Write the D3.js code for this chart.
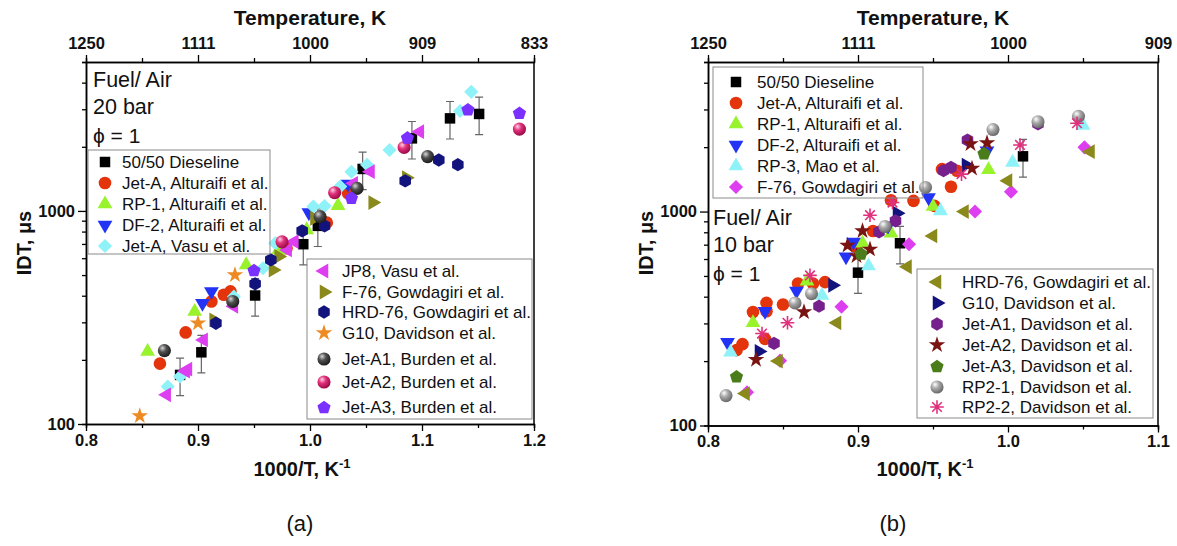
<!DOCTYPE html>
<html>
<head>
<meta charset="utf-8">
<script src="https://cdn.jsdelivr.net/npm/d3@7"></script>
<style>
  body { margin: 0; background: #fff; }
  svg { display: block; }
  text { font-family: "Liberation Sans", Arial, sans-serif; fill: #111; }
</style>
</head>
<body>
<svg id="chart" width="1177" height="546"></svg>
<script>
// ---------- data, panel (a): fuel/air, 20 bar, [1000/T, IDT us] ----------
const a_dieseline = [[0.884,170],[0.903,217],[0.951,401],[0.994,698],[1.007,851],[1.047,1574],[1.091,2191],[1.125,2719],[1.151,2852]];
const a_dieselineErr = [0.2,0.2,0.2,0.2,0.2,0.2,0.2,0.2,0.2];
const a_jetA_alt = [[0.866,192],[0.889,269],[0.912,376],[0.923,404],[0.929,419],[0.979,668],[1.015,881],[1.034,1211]];
const a_rp1_alt = [[0.855,219],[0.897,337],[0.943,558],[0.972,656],[0.997,815],[1.025,1059]];
const a_df2_alt = [[0.904,369],[0.912,419],[0.999,982],[1.034,1339]];
const a_jetA_vasu = [[0.873,150],[0.884,167],[0.932,396],[0.958,538],[0.969,705],[1.003,1048],[1.013,1055],[1.027,1301],[1.037,1528],[1.051,1645],[1.071,1932],[1.134,2943],[1.144,3623]];
const a_jp8_vasu = [[0.872,137],[0.889,177],[0.891,181],[0.905,248],[0.932,357],[0.980,656],[0.986,718],[1.039,1348],[1.054,1528],[1.098,2354]];
const a_f76_gow = [[0.914,308],[0.967,528],[0.972,611],[1.004,924],[1.056,1094],[1.086,1433]];
const a_hrd76_gow = [[0.916,297],[0.951,455],[0.965,589],[0.993,806],[1.013,851],[1.085,1383],[1.115,1734],[1.132,1648]];
const a_g10_dav = [[0.848,109],[0.900,297],[0.933,501]];
const a_jetA1_bur = [[0.870,221],[0.931,376],[1.009,940],[1.042,1276],[1.105,1799]];
const a_jetA2_bur = [[0.975,716],[1.022,1218],[1.084,1986],[1.187,2421]];
const a_jetA3_bur = [[0.950,528],[1.037,1155],[1.087,2215],[1.141,3000],[1.187,2890]];

// ---------- data, panel (b): fuel/air, 10 bar ----------
const b_dieseline = [[0.900,518],[0.928,711],[1.010,1812]];
const b_dieselineErr = [0.2,0.2,0.2];
const b_jetA_alt = [[0.819,225],[0.823,240],[0.830,339],[0.838,254],[0.839,374],[0.839,342],[0.850,368],[0.860,461],[0.870,461],[0.878,468],[0.899,678],[0.910,811],[0.922,1130],[0.937,1122],[0.951,1063],[0.956,1578],[0.962,1305],[0.966,1552]];
const b_rp1_alt = [[0.830,302],[0.866,473],[0.903,711],[0.922,791],[0.950,1055],[0.987,1567]];
const b_df2_alt = [[0.813,245],[0.838,342],[0.859,425],[0.892,615],[0.897,721],[0.920,857],[0.947,1163],[0.986,1923]];
const b_rp3_mao = [[0.815,220],[0.876,405],[0.907,556],[0.955,1007],[1.003,1698],[1.050,2523]];
const b_f76_gow = [[0.826,143],[0.848,201],[0.889,359],[0.934,703],[0.978,1000],[1.002,1237],[1.051,1995]];
const b_hrd76_gow = [[0.825,141],[0.847,200],[0.886,302],[0.933,552],[0.950,769],[0.971,1000],[1.000,1393],[1.055,1905]];
const b_g10_dav = [[0.834,222],[0.883,452],[0.926,982],[0.972,1649]];
const b_jetA1_dav = [[0.844,242],[0.874,361],[0.914,803],[0.925,904],[0.957,1552],[0.962,1608],[0.973,2158],[1.020,2570]];
const b_jetA2_dav = [[0.832,203],[0.864,339],[0.893,695],[0.899,620],[0.903,811],[0.908,666],[0.975,2070],[0.976,1591],[0.986,2090]];
const b_jetA3_dav = [[0.819,170],[0.902,638],[0.984,1876]];
const b_rp21_dav = [[0.812,138],[0.858,374],[0.869,413],[0.918,851],[0.945,1296],[0.990,2417],[1.020,2630],[1.047,2786]];
const b_rp22_dav = [[0.836,269],[0.853,302],[0.868,503],[0.908,961],[0.923,1102],[0.969,1496],[1.008,2047],[1.046,2588]];

// ---------- axis ticks ----------
const yMajor = [100, 1000];
const yMinor = [200,300,400,500,600,700,800,900,2000,3000,4000,5000];
const a_xMajor = [0.8, 0.9, 1.0, 1.1, 1.2];
const a_xMinor = [0.85, 0.95, 1.05, 1.15];
const b_xMajor = [0.8, 0.9, 1.0, 1.1];
const b_xMinor = [0.85, 0.95, 1.05];

// ---------- legend labels ----------
const a_labels1 = ['50/50 Dieseline','Jet-A, Alturaifi et al.','RP-1, Alturaifi et al.','DF-2, Alturaifi et al.','Jet-A, Vasu et al.'];
const a_labels2 = ['JP8, Vasu et al.','F-76, Gowdagiri et al.','HRD-76, Gowdagiri et al.','G10, Davidson et al.','Jet-A1, Burden et al.','Jet-A2, Burden et al.','Jet-A3, Burden et al.'];
const b_labels1 = ['50/50 Dieseline','Jet-A, Alturaifi et al.','RP-1, Alturaifi et al.','DF-2, Alturaifi et al.','RP-3, Mao et al.','F-76, Gowdagiri et al.'];
const b_labels2 = ['HRD-76, Gowdagiri et al.','G10, Davidson et al.','Jet-A1, Davidson et al.','Jet-A2, Davidson et al.','Jet-A3, Davidson et al.','RP2-1, Davidson et al.','RP2-2, Davidson et al.'];

const svg = d3.select('#chart');
svg.append('rect').attr('width', 1177).attr('height', 546).attr('fill', '#fff');
const defs = svg.append('defs');

// sphere gradients
function sphereGrad(id, light, base, dark) {
  const g = defs.append('radialGradient').attr('id', id)
    .attr('cx', '38%').attr('cy', '35%').attr('r', '65%').attr('fx', '35%').attr('fy', '30%');
  g.append('stop').attr('offset', '0%').attr('stop-color', light);
  g.append('stop').attr('offset', '45%').attr('stop-color', base);
  g.append('stop').attr('offset', '100%').attr('stop-color', dark);
  return `url(#${id})`;
}
const sphDark = sphereGrad('sphDark', '#d8d8d8', '#505050', '#1e1e1e');
const sphPink = sphereGrad('sphPink', '#ffd0e4', '#e0307a', '#9a0c48');
const sphGrey = sphereGrad('sphGrey', '#ffffff', '#a8a8a8', '#6a6a6a');

// custom symbol types
const symbolHexagon = {
  draw(ctx, size) {
    const r = Math.sqrt(size * 2 / (3 * Math.sqrt(3)));
    for (let i = 0; i < 6; i++) {
      const a = Math.PI / 3 * i - Math.PI / 2;
      i ? ctx.lineTo(r * Math.cos(a), r * Math.sin(a)) : ctx.moveTo(r * Math.cos(a), r * Math.sin(a));
    }
    ctx.closePath();
  }
};
const symbolPentagon = {
  draw(ctx, size) {
    const r = Math.sqrt(size / 2.378);
    for (let i = 0; i < 5; i++) {
      const a = 2 * Math.PI / 5 * i - Math.PI / 2;
      i ? ctx.lineTo(r * Math.cos(a), r * Math.sin(a) + r * 0.1) : ctx.moveTo(r * Math.cos(a), r * Math.sin(a) + r * 0.1);
    }
    ctx.closePath();
  }
};
const symbolAsterisk = {
  draw(ctx, size) {
    const r = Math.sqrt(size) / 2;
    for (let i = 0; i < 4; i++) {
      const a = Math.PI / 4 * i;
      ctx.moveTo(-r * Math.cos(a), -r * Math.sin(a));
      ctx.lineTo(r * Math.cos(a), r * Math.sin(a));
    }
  }
};

// shape -> [symbol type, size, rotation]
const shapes = {
  square:   [d3.symbolSquare, 110, 0],
  circle:   [d3.symbolCircle, 125, 0],
  up:       [d3.symbolTriangle, 95, 0],
  down:     [d3.symbolTriangle, 95, 180],
  left:     [d3.symbolTriangle, 95, -90],
  right:    [d3.symbolTriangle, 95, 90],
  diamond:  [d3.symbolSquare, 100, 45],
  hexagon:  [symbolHexagon, 115, 0],
  pentagon: [symbolPentagon, 115, 0],
  star:     [d3.symbolStar, 85, 0],
  sphere:   [d3.symbolCircle, 135, 0],
  asterisk: [symbolAsterisk, 185, 0]
};

function drawMarker(g, shape, color, cx, cy) {
  const [type, size, rot] = shapes[shape];
  const p = g.append('path')
    .attr('d', d3.symbol().type(type).size(size)())
    .attr('transform', `translate(${cx},${cy}) rotate(${rot})`);
  if (shape === 'asterisk') {
    p.attr('fill', 'none').attr('stroke', color).attr('stroke-width', 1.6);
  } else {
    p.attr('fill', color);
  }
}

// ---------- series tables ----------
const seriesA = [
  { data: a_dieseline, err: a_dieselineErr, shape: 'square', color: '#000' },
  { data: a_jetA_alt, shape: 'circle', color: '#e3340c' },
  { data: a_rp1_alt, shape: 'up', color: '#98f22c' },
  { data: a_df2_alt, shape: 'down', color: '#2233f5' },
  { data: a_jetA_vasu, shape: 'diamond', color: '#8ef2f8' },
  { data: a_jp8_vasu, shape: 'left', color: '#dd3ff0' },
  { data: a_f76_gow, shape: 'right', color: '#8a8a1c' },
  { data: a_hrd76_gow, shape: 'hexagon', color: '#13137e' },
  { data: a_g10_dav, shape: 'star', color: '#ee8a24' },
  { data: a_jetA1_bur, shape: 'sphere', color: sphDark },
  { data: a_jetA2_bur, shape: 'sphere', color: sphPink },
  { data: a_jetA3_bur, shape: 'pentagon', color: '#7a30ff' }
];
const seriesB = [
  { data: b_dieseline, err: b_dieselineErr, shape: 'square', color: '#000' },
  { data: b_jetA_alt, shape: 'circle', color: '#e3340c' },
  { data: b_rp1_alt, shape: 'up', color: '#98f22c' },
  { data: b_df2_alt, shape: 'down', color: '#2233f5' },
  { data: b_rp3_mao, shape: 'up', color: '#8ef2f8' },
  { data: b_f76_gow, shape: 'diamond', color: '#dd3ff0' },
  { data: b_hrd76_gow, shape: 'left', color: '#8a8a1c' },
  { data: b_g10_dav, shape: 'right', color: '#13137e' },
  { data: b_jetA1_dav, shape: 'hexagon', color: '#76208e' },
  { data: b_jetA2_dav, shape: 'star', color: '#7a1412' },
  { data: b_jetA3_dav, shape: 'pentagon', color: '#4a7d1a' },
  { data: b_rp21_dav, shape: 'sphere', color: sphGrey },
  { data: b_rp22_dav, shape: 'asterisk', color: '#e0307e' }
];

/**
 * Draws one panel: axes, points, legends and annotation text
 */
function drawPanel(cfg) {
  const g = svg.append('g');
  const x = d3.scaleLinear().domain(cfg.xDomain).range([cfg.left, cfg.right]);
  const y = d3.scaleLog().domain([100, 5000]).range([cfg.bottom, cfg.top]);

  // minor ticks
  g.append('g').attr('transform', `translate(0,${cfg.bottom})`)
    .call(d3.axisBottom(x).tickValues(cfg.xMinor).tickSize(4).tickFormat(''));
  g.append('g').attr('transform', `translate(0,${cfg.top})`)
    .call(d3.axisTop(x).tickValues(cfg.xMinor).tickSize(4).tickFormat(''));
  g.append('g').attr('transform', `translate(${cfg.left},0)`)
    .call(d3.axisLeft(y).tickValues(yMinor).tickSize(4).tickFormat(''));

  // major ticks
  g.append('g').attr('transform', `translate(0,${cfg.bottom})`).attr('class', 'ax')
    .call(d3.axisBottom(x).tickValues(cfg.xMajor).tickSize(7).tickSizeOuter(0).tickPadding(3).tickFormat(d3.format('.1f')));
  g.append('g').attr('transform', `translate(0,${cfg.top})`).attr('class', 'ax')
    .call(d3.axisTop(x).tickValues(cfg.xMajor).tickSize(7).tickSizeOuter(0).tickPadding(6).tickFormat(d => Math.round(1000 / d)));
  g.append('g').attr('transform', `translate(${cfg.left},0)`).attr('class', 'ax')
    .call(d3.axisLeft(y).tickValues(yMajor).tickSize(8).tickSizeOuter(0).tickPadding(3).tickFormat(d3.format('d')));
  g.append('line').attr('x1', cfg.right).attr('x2', cfg.right).attr('y1', cfg.top).attr('y2', cfg.bottom)
    .attr('stroke', '#000').attr('stroke-width', 1.5);

  g.selectAll('.domain').attr('stroke', '#000').attr('stroke-width', 1.5);
  g.selectAll('.tick line').attr('stroke', '#000').attr('stroke-width', 1.3);
  g.selectAll('.ax text').attr('font-size', 16.5).attr('font-weight', 'bold').attr('fill', '#111')
    .attr('font-family', '"Liberation Sans", Arial, sans-serif');

  // axis titles
  const cx = (cfg.left + cfg.right) / 2;
  g.append('text').attr('x', cx).attr('y', 25).attr('text-anchor', 'middle')
    .attr('font-size', 21).attr('font-weight', 'bold').text('Temperature, K');
  const xt = g.append('text').attr('x', cx - 8).attr('y', 476).attr('text-anchor', 'middle')
    .attr('font-size', 20).attr('font-weight', 'bold');
  xt.append('tspan').text('1000/T, K');
  xt.append('tspan').attr('dy', -8).attr('font-size', 13).text('-1');
  g.append('text').attr('transform', `translate(${cfg.left - 55},243) rotate(-90)`)
    .attr('text-anchor', 'middle').attr('font-size', 20).attr('font-weight', 'bold').text('IDT, \u03bcs');

  // panel label
  g.append('text').attr('x', cfg.tag[0]).attr('y', 531).attr('text-anchor', 'middle')
    .attr('font-family', '"Liberation Serif", "Times New Roman", serif').attr('font-size', 22).text(cfg.tag[1]);

  // conditions text
  const [tx, ty] = cfg.note;
  g.append('text').attr('x', tx).attr('y', ty).attr('font-size', 21.5).text('Fuel/ Air');
  g.append('text').attr('x', tx).attr('y', ty + 27).attr('font-size', 21.5).text(cfg.pressure);
  g.append('text').attr('x', tx).attr('y', ty + 56).attr('font-size', 21)
    .attr('font-family', '"Liberation Serif", "Times New Roman", serif').text('\u03d5 = 1');

  // points
  const pts = g.append('g');
  cfg.series.forEach(s => {
    if (s.err) {
      s.data.forEach((d, i) => {
        const px = x(d[0]);
        const y0 = y(d[1] * (1 - s.err[i])), y1 = y(d[1] * (1 + s.err[i]));
        pts.append('path').attr('d', `M${px},${y0}V${y1}M${px - 4},${y0}H${px + 4}M${px - 4},${y1}H${px + 4}`)
          .attr('stroke', '#666').attr('stroke-width', 1.2).attr('fill', 'none');
      });
    }
    s.data.forEach(d => drawMarker(pts, s.shape, s.color, x(d[0]), y(d[1])));
  });

  // legends
  cfg.legends.forEach(L => {
    g.append('rect').attr('x', L.box[0]).attr('y', L.box[1]).attr('width', L.box[2]).attr('height', L.box[3])
      .attr('fill', 'none').attr('stroke', '#8a8a8a').attr('stroke-width', 1);
    L.labels.forEach((lab, i) => {
      const s = L.series[i];
      const ry = L.rows[i];
      drawMarker(g, s.shape, s.color, L.sx, ry);
      g.append('text').attr('x', L.tx).attr('y', ry + 6).attr('font-size', 17).text(lab);
    });
  });
}

drawPanel({
  xDomain: [0.8, 1.2], left: 86, right: 534, top: 62, bottom: 424,
  xMajor: a_xMajor, xMinor: a_xMinor, series: seriesA,
  tag: [300, '(a)'], note: [93, 87], pressure: '20 bar',
  legends: [
    { box: [88, 150, 182, 104], sx: 105, tx: 122, rows: [162, 183, 204, 225, 246],
      labels: a_labels1, series: seriesA.slice(0, 5) },
    { box: [307, 259, 225, 160], sx: 324, tx: 342, rows: [271, 292, 312, 333, 359, 382, 407],
      labels: a_labels2, series: seriesA.slice(5) }
  ]
});

drawPanel({
  xDomain: [0.8, 1.1], left: 708, right: 1158, top: 62, bottom: 425.5,
  xMajor: b_xMajor, xMinor: b_xMinor, series: seriesB,
  tag: [893, '(b)'], note: [713, 225], pressure: '10 bar',
  legends: [
    { box: [713, 67, 210, 131], sx: 736, tx: 757, rows: [82, 103, 124, 145, 166, 187],
      labels: b_labels1, series: seriesB.slice(0, 6) },
    { box: [917, 269, 236, 149], sx: 937, tx: 962, rows: [282, 303, 324, 345, 366, 387, 407],
      labels: b_labels2, series: seriesB.slice(6) }
  ]
});
</script>
</body>
</html>
